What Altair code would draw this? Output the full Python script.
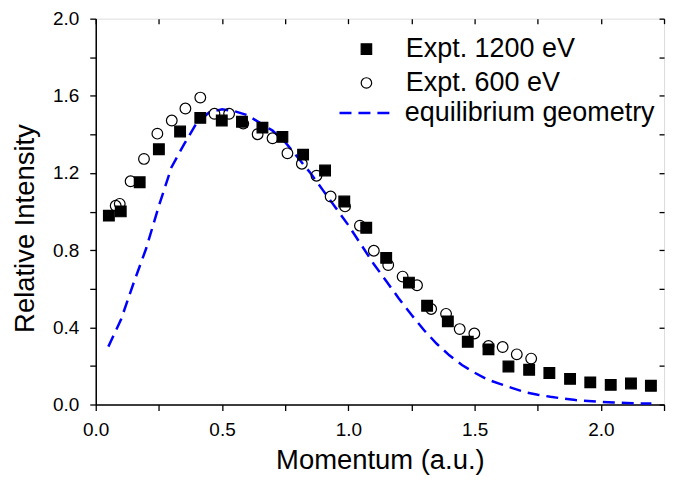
import altair as alt
import pandas as pd

S1200 = "Expt. 1200 eV"
S600 = "Expt. 600 eV"
SEQ = "equilibrium geometry"

x_1200 = [0.052, 0.099, 0.174, 0.250, 0.334, 0.414, 0.499, 0.579, 0.660, 0.739,
          0.821, 0.908, 0.984, 1.071, 1.150, 1.240, 1.312, 1.394, 1.473, 1.555,
          1.634, 1.716, 1.796, 1.878, 1.958, 2.039, 2.119, 2.198]
y_1200 = [0.979, 1.001, 1.152, 1.323, 1.415, 1.486, 1.472, 1.466, 1.435, 1.387,
          1.295, 1.213, 1.052, 0.916, 0.760, 0.632, 0.512, 0.431, 0.325, 0.286,
          0.197, 0.180, 0.163, 0.133, 0.115, 0.102, 0.109, 0.097]

x_600 = [0.079, 0.095, 0.138, 0.191, 0.244, 0.301, 0.355, 0.414, 0.470, 0.528,
         0.584, 0.641, 0.700, 0.759, 0.816, 0.874, 0.930, 0.987, 1.046, 1.101,
         1.158, 1.215, 1.272, 1.328, 1.387, 1.441, 1.499, 1.555, 1.611, 1.667, 1.724]
y_600 = [1.030, 1.040, 1.157, 1.273, 1.404, 1.472, 1.534, 1.591, 1.507, 1.507,
         1.456, 1.401, 1.380, 1.302, 1.248, 1.186, 1.078, 1.027, 0.927, 0.797,
         0.723, 0.663, 0.618, 0.495, 0.470, 0.391, 0.368, 0.303, 0.298, 0.260, 0.238]

x_eq = [0.05, 0.10, 0.15, 0.20, 0.25, 0.30, 0.35, 0.40, 0.45, 0.50, 0.55, 0.60,
        0.65, 0.70, 0.75, 0.80, 0.85, 0.90, 0.95, 1.00, 1.05, 1.10, 1.15, 1.20,
        1.25, 1.30, 1.35, 1.40, 1.45, 1.50, 1.55, 1.60, 1.65, 1.70, 1.75, 1.80,
        1.85, 1.90, 1.95, 2.00, 2.05, 2.10, 2.15, 2.20]
y_eq = [0.30, 0.44, 0.63, 0.81, 1.03, 1.23, 1.35, 1.46, 1.515, 1.53, 1.52, 1.50,
        1.46, 1.42, 1.36, 1.28, 1.20, 1.11, 1.02, 0.93, 0.83, 0.73, 0.64, 0.55,
        0.465, 0.385, 0.315, 0.255, 0.205, 0.165, 0.13, 0.107, 0.085, 0.064, 0.051, 0.040,
        0.031, 0.023, 0.018, 0.014, 0.011, 0.008, 0.006, 0.005]

x_ticks = [0.0, 0.25, 0.5, 0.75, 1.0, 1.25, 1.5, 1.75, 2.0, 2.25]
y_ticks = [0.0, 0.2, 0.4, 0.6, 0.8, 1.0, 1.2, 1.4, 1.6, 1.8, 2.0]

pts = pd.DataFrame({
    "momentum": x_1200 + x_600,
    "intensity": y_1200 + y_600,
    "series": [S1200] * len(x_1200) + [S600] * len(x_600),
})
eq = pd.DataFrame({"momentum": x_eq, "intensity": y_eq, "series": [SEQ] * len(x_eq)})

FONT = "Liberation Sans"
xscale = alt.Scale(domain=[0, 2.25], nice=False, zero=False)
yscale = alt.Scale(domain=[0, 2.0], nice=False, zero=False)

common_axis = dict(labelFont=FONT, titleFont=FONT, labelColor="black", titleColor="black",
                   tickColor="black", domainColor="black", tickWidth=1.3, domainWidth=1.5,
                   grid=False, titleFontWeight="normal")

x_axis = alt.Axis(values=x_ticks, labelExpr="round(datum.value*4) % 2 == 0 ? format(datum.value, '.1f') : ''",
                  title="Momentum (a.u.)", labelFontSize=19, titleFontSize=27.5, tickSize=6,
                  labelPadding=10, titlePadding=7, labelFlush=False, **common_axis)
y_axis = alt.Axis(values=y_ticks, labelExpr="round(datum.value*10) % 4 == 0 ? format(datum.value, '.1f') : ''",
                  title="Relative Intensity", labelFontSize=19, titleFontSize=27.5, tickSize=6,
                  labelPadding=11, titlePadding=13, titleY=210, labelFlush=False, **common_axis)

x_top = alt.Axis(values=x_ticks, orient="top", labels=False, title=None, domain=False,
                 tickSize=5, offset=-5, tickColor="black", tickWidth=1.3, grid=False)
y_right = alt.Axis(values=y_ticks, orient="right", labels=False, title=None, domain=False,
                   tickSize=5, offset=-5, tickColor="black", tickWidth=1.3, grid=False)

pt_domain = [S1200, S600]
pt_legend = alt.Legend(orient="none", legendX=258, legendY=17, title=None,
                       labelFont=FONT, labelFontSize=27, labelColor="black", labelLimit=400,
                       symbolSize=110, symbolStrokeWidth=1.2, rowPadding=6,
                       labelOffset=26, padding=0, symbolFillColor="transparent",
                       symbolStrokeColor="black")

line = alt.Chart(eq).mark_line(color="#0000ff", strokeWidth=2.5).encode(
    x=alt.X("momentum:Q", scale=xscale, axis=x_axis),
    y=alt.Y("intensity:Q", scale=yscale, axis=y_axis),
    strokeDash=alt.StrokeDash("series:N", scale=alt.Scale(domain=[SEQ], range=[[12, 7]]),
                              legend=alt.Legend(orient="none", legendX=243, legendY=68, title=None,
                                                labelFont=FONT, labelFontSize=27, labelColor="black",
                                                labelLimit=400,
                                                symbolSize=2500, symbolStrokeWidth=2.5,
                                                symbolStrokeColor="#0000ff", symbolType="stroke",
                                                labelOffset=14, padding=0)),
)

points = alt.Chart(pts).mark_point(stroke="black", strokeWidth=1.2, size=115, opacity=1).encode(
    x=alt.X("momentum:Q", scale=xscale, axis=None),
    y=alt.Y("intensity:Q", scale=yscale, axis=None),
    shape=alt.Shape("series:N", scale=alt.Scale(domain=pt_domain, range=["square", "circle"]),
                    legend=pt_legend),
    fill=alt.Fill("series:N", scale=alt.Scale(domain=pt_domain, range=["black", "transparent"]),
                  legend=pt_legend),
)

frame = alt.Chart(eq).mark_line(opacity=0).encode(
    x=alt.X("momentum:Q", scale=xscale, axis=x_top),
    y=alt.Y("intensity:Q", scale=yscale, axis=y_right),
)

chart = alt.layer(line, points, frame).resolve_axis(x="independent", y="independent").properties(
    width=570, height=387,
    autosize=alt.AutoSizeParams(type="none"),
    padding={"left": 88, "top": 10, "right": 10, "bottom": 70},
).configure_view(stroke="black", strokeWidth=1.5).configure(background="white")

chart.save("out.html", embed_options={"renderer": "svg", "actions": False})
